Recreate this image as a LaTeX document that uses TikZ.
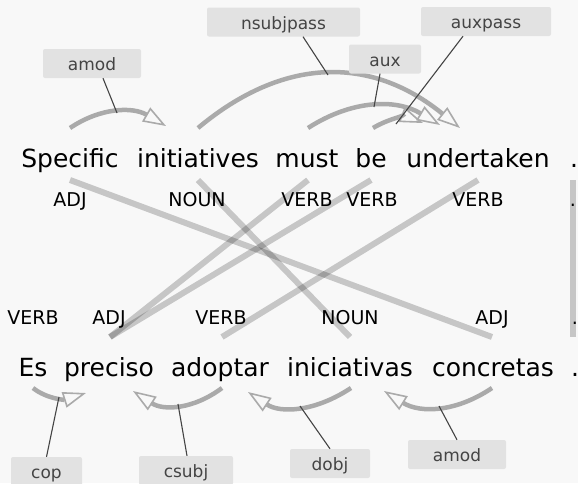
\documentclass[tikz,border=0pt]{standalone}
\usepackage{fontspec}
\setmainfont{DejaVu Sans}
\usetikzlibrary{arrows.meta,calc}
\definecolor{bg}{HTML}{F8F8F8}
\definecolor{arcc}{HTML}{AAAAAA}
\definecolor{lblfill}{HTML}{E2E2E2}
\definecolor{lbltext}{HTML}{444444}
\definecolor{connc}{HTML}{444444}
\newcommand{\deparcpath}[3]{\draw[deparc] (#1) .. controls ($(#1)!0.667!(#2)$) and ($(#3)!0.667!(#2)$) .. (#3);}
\begin{document}
\begin{tikzpicture}[x=1pt,y=-1pt,
  word/.style={anchor=base, inner sep=0pt, font=\fontsize{25}{30}\selectfont},
  postag/.style={anchor=base, inner sep=0pt, font=\fontsize{19}{23}\selectfont},
  lbl/.style={fill=lblfill, text=lbltext, rounded corners=2pt, inner xsep=0pt, inner ysep=6.5pt,
              text height=15pt, text depth=1pt, font=\fontsize{17}{20}\selectfont},
  alignline/.style={line width=6pt, draw=black, draw opacity=0.2},
  deparc/.style={draw=arcc, line width=4.5pt, -{Triangle[open, length=23pt, width=16pt, line width=1.6pt]}},
  connline/.style={draw=connc, line width=1.1pt}
]
\useasboundingbox (0,0) rectangle (578,483);
\fill[bg] (0,0) rectangle (578,483);

% alignment anchor points
\coordinate (ta1) at (70,180);
\coordinate (ta2) at (198,180);
\coordinate (ta3) at (308,180);
\coordinate (ta4) at (371,180);
\coordinate (ta5) at (478,180);
\coordinate (ta6) at (573,180);
\coordinate (ba2) at (110,337);
\coordinate (ba3) at (222,337);
\coordinate (ba4) at (350,337);
\coordinate (ba5) at (492,337);
\coordinate (ba6) at (573,337);

\draw[alignline] (ta1) -- (ba5);
\draw[alignline] (ta2) -- (ba4);
\draw[alignline] (ta3) -- (ba2);
\draw[alignline] (ta4) -- (ba2);
\draw[alignline] (ta5) -- (ba3);
\draw[alignline] (ta6) -- (ba6);

% top words
\node[word] (t1) at (70,167) {Specific};
\node[word] (t2) at (198,167) {initiatives};
\node[word] (t3) at (307,167) {must};
\node[word] (t4) at (371,167) {be};
\node[word] (t5) at (478,167) {undertaken};
\node[word] (t6) at (574,167) {.};
% top pos
\node[postag] (tp1) at (70,206) {ADJ};
\node[postag] (tp2) at (197,206) {NOUN};
\node[postag] (tp3) at (307,206) {VERB};
\node[postag] (tp4) at (372,206) {VERB};
\node[postag] (tp5) at (478,206) {VERB};
\node[postag] (tp6) at (573,206) {.};
% bottom pos
\node[postag] (bp1) at (33,324) {VERB};
\node[postag] (bp2) at (109,324) {ADJ};
\node[postag] (bp3) at (221,324) {VERB};
\node[postag] (bp4) at (350,324) {NOUN};
\node[postag] (bp5) at (492,324) {ADJ};
\node[postag] (bp6) at (575,324) {.};
% bottom words
\node[word] (b1) at (33,376) {Es};
\node[word] (b2) at (109,376) {preciso};
\node[word] (b3) at (220,376) {adoptar};
\node[word] (b4) at (350,376) {iniciativas};
\node[word] (b5) at (493,376) {concretas};
\node[word] (b6) at (575,376) {.};

% arc geometry
\coordinate (s1) at (70,128);  \coordinate (q1) at (116,97);   \coordinate (e1) at (166,126);
\coordinate (s2) at (198,128); \coordinate (q2) at (327,20);   \coordinate (e2) at (460,128);
\coordinate (s3) at (308,128); \coordinate (q3) at (374,85.5); \coordinate (e3) at (440,125);
\coordinate (s4) at (373,128); \coordinate (q4) at (398,113);  \coordinate (e4) at (423,123);
\coordinate (s5) at (33,388);  \coordinate (q5) at (52.5,403.5); \coordinate (e5) at (86,393);
\coordinate (s6) at (222,388); \coordinate (q6) at (178.5,420.5); \coordinate (e6) at (133,391);
\coordinate (s7) at (351,388); \coordinate (q7) at (296.5,424); \coordinate (e7) at (248,392);
\coordinate (s8) at (492,388); \coordinate (q8) at (438,424.5); \coordinate (e8) at (384,391);

\deparcpath{s1}{q1}{e1}
\deparcpath{s2}{q2}{e2}
\deparcpath{s3}{q3}{e3}
\deparcpath{s4}{q4}{e4}
\deparcpath{s5}{q5}{e5}
\deparcpath{s6}{q6}{e6}
\deparcpath{s7}{q7}{e7}
\deparcpath{s8}{q8}{e8}

% labels
\node[lbl, minimum width=98pt] (l1) at (92,63.5) {amod};
\node[lbl, minimum width=153pt] (l2) at (283.5,22) {nsubjpass};
\node[lbl, minimum width=72pt] (l3) at (385,59) {aux};
\node[lbl, minimum width=130pt] (l4) at (486,21.5) {auxpass};
\node[lbl, minimum width=71pt] (l5) at (46.5,471.5) {cop};
\node[lbl, minimum width=94pt] (l6) at (186,470.5) {csubj};
\node[lbl, minimum width=80pt] (l7) at (330,463.5) {dobj};
\node[lbl, minimum width=98pt] (l8) at (457,454.5) {amod};

% points on arcs
\coordinate (p1) at (117,113);
\coordinate (p2) at (328,75);
\coordinate (p3) at (374,107);
\coordinate (p4) at (396,124);
\coordinate (p5) at (59,397);
\coordinate (p6) at (178,404);
\coordinate (p7) at (300,406);
\coordinate (p8) at (439,406);

\draw[connline] ([xshift=11pt]l1.south) -- (p1);
\draw[connline] ([xshift=19.5pt]l2.south) -- (p2);
\draw[connline] ([xshift=-5pt]l3.south) -- (p3);
\draw[connline] ([xshift=-23pt]l4.south) -- (p4);
\draw[connline] (l5.north) -- (p5);
\draw[connline] ([xshift=1pt]l6.north) -- (p6);
\draw[connline] (l7.north) -- (p7);
\draw[connline] (l8.north) -- (p8);
\end{tikzpicture}
\end{document}
